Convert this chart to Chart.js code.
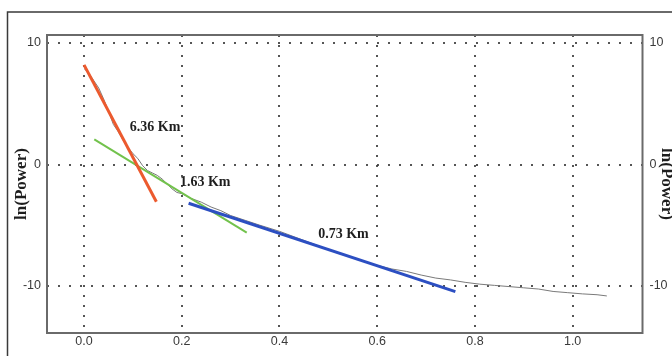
<!DOCTYPE html>
<html>
<head>
<meta charset="utf-8">
<script src="https://cdn.jsdelivr.net/npm/chart.js@4/dist/chart.umd.min.js"></script>
<style>
  html, body { margin: 0; padding: 0; background: #fff; overflow: hidden; width: 672px; height: 356px; }
  #wrap { position: absolute; left: 0; top: 0; width: 690px; height: 372px; }
</style>
</head>
<body>
<div id="wrap"><canvas id="c"></canvas></div>
<script>
// ---- data ----
const xTicks = [0.0, 0.2, 0.4, 0.6, 0.8, 1.0];
const yTicks = [-10, 0, 10];

const dataX = [0.0, 0.01, 0.02, 0.03, 0.04, 0.05, 0.06, 0.07, 0.08, 0.09, 0.10, 0.11, 0.12, 0.13, 0.14, 0.15,
  0.16, 0.17, 0.18, 0.19, 0.20, 0.22, 0.24, 0.26, 0.28, 0.30, 0.33, 0.36, 0.40, 0.44, 0.48, 0.52, 0.56, 0.60,
  0.63, 0.66, 0.69, 0.72, 0.75, 0.78, 0.81, 0.84, 0.87, 0.90, 0.93, 0.96, 0.99, 1.02, 1.05, 1.07];
const dataY = [7.9, 7.5, 6.9, 6.3, 5.4, 4.4, 3.3, 2.7, 2.0, 1.4, 0.9, 0.5, -0.1, -0.5, -0.7, -0.9,
  -1.2, -1.6, -2.0, -2.3, -2.4, -2.8, -3.1, -3.5, -3.8, -4.2, -4.6, -5.0, -5.5, -6.1, -6.7, -7.3, -7.8, -8.3,
  -8.6, -8.8, -9.1, -9.35, -9.5, -9.7, -9.85, -9.95, -10.05, -10.15, -10.25, -10.45, -10.55, -10.65, -10.72, -10.82];

const redX = [0.0, 0.148];   const redY = [8.2, -3.06];
const greenX = [0.021, 0.333]; const greenY = [2.07, -5.61];
const blueX = [0.214, 0.76];  const blueY = [-3.19, -10.47];

const noteText = ['6.36 Km', '1.63 Km', '0.73 Km'];
const noteX = [0.1455, 0.248, 0.531];
const noteY = [3.09, -1.44, -5.72];

const axisTitle = 'ln(Power)';

// ---- chart ----
const pts = (xs, ys) => xs.map((x, i) => ({ x: x, y: ys[i] }));
const serif = '"Liberation Serif", "Times New Roman", serif';
const sans = '"Liberation Sans", Arial, sans-serif';

const framePlugin = {
  id: 'frame',
  beforeDraw(chart) {
    const ctx = chart.ctx;
    ctx.save();
    ctx.fillStyle = '#fff';
    ctx.fillRect(0, 0, chart.width, chart.height);
    ctx.strokeStyle = '#3a3a3a';
    ctx.lineWidth = 1.5;
    ctx.strokeRect(7.5, 12, chart.width + 20, chart.height + 20);
    ctx.restore();
  },
  afterDraw(chart) {
    const a = chart.chartArea;
    const ctx = chart.ctx;
    ctx.save();
    ctx.strokeStyle = '#6a6a6a';
    ctx.lineWidth = 2;
    ctx.strokeRect(a.left, a.top, a.right - a.left, a.bottom - a.top);
    ctx.restore();
  }
};

const notePlugin = {
  id: 'notes',
  afterDatasetsDraw(chart) {
    const ctx = chart.ctx;
    const xs = chart.scales.x, ys = chart.scales.y;
    ctx.save();
    ctx.font = 'bold 14px ' + serif;
    ctx.fillStyle = '#1e1e1e';
    ctx.textAlign = 'center';
    ctx.textBaseline = 'middle';
    noteText.forEach((t, i) => {
      ctx.fillText(t, xs.getPixelForValue(noteX[i]), ys.getPixelForValue(noteY[i]));
    });
    ctx.restore();
  }
};

const gridOpts = { color: 'rgba(55,55,55,0.85)', lineWidth: 2, drawTicks: false, tickLength: 0 };

new Chart(document.getElementById('c'), {
  type: 'scatter',
  data: {
    datasets: [
      { data: pts(redX, redY), showLine: true, borderColor: '#ec5a2e', borderWidth: 3, pointRadius: 0, order: 1 },
      { data: pts(blueX, blueY), showLine: true, borderColor: '#2c4fc2', borderWidth: 3, pointRadius: 0, order: 2 },
      { data: pts(greenX, greenY), showLine: true, borderColor: '#72c24c', borderWidth: 2, pointRadius: 0, order: 3 },
      { data: pts(dataX, dataY), showLine: true, borderColor: '#7a7a7a', borderWidth: 1, pointRadius: 0, order: 4 }
    ]
  },
  options: {
    responsive: true,
    maintainAspectRatio: false,
    devicePixelRatio: 1,
    animation: false,
    layout: { padding: { left: 0, right: 0, top: 35, bottom: 0 } },
    plugins: { legend: { display: false }, tooltip: { enabled: false } },
    scales: {
      x: {
        type: 'linear', position: 'bottom', min: -0.0758, max: 1.143,
        afterBuildTicks: s => { s.ticks = xTicks.map(v => ({ value: v })); },
        afterFit: s => { s.height = 39; },
        grid: gridOpts,
        border: { display: false, dash: [2, 8] },
        ticks: { padding: 1, color: '#3a3a3a', font: { family: sans, size: 12.5 }, callback: v => v.toFixed(1), maxRotation: 0 }
      },
      y: {
        type: 'linear', position: 'left', min: -13.87, max: 10.66,
        afterBuildTicks: s => { s.ticks = yTicks.map(v => ({ value: v })); },
        afterFit: s => { s.width = 47; },
        grid: gridOpts,
        border: { display: false, dash: [2, 9] },
        ticks: { padding: 6, color: '#3a3a3a', font: { family: sans, size: 12.5 }, callback: v => String(v) },
        title: { display: true, text: axisTitle, color: '#1e1e1e', font: { family: serif, size: 17, weight: 'bold' }, padding: { top: 11, bottom: 0 } }
      },
      y2: {
        type: 'linear', position: 'right', min: -13.87, max: 10.66,
        afterBuildTicks: s => { s.ticks = yTicks.map(v => ({ value: v })); },
        afterFit: s => { s.width = 47.5; },
        grid: { display: false, drawTicks: false, tickLength: 0 },
        border: { display: false },
        ticks: { padding: 7, color: '#3a3a3a', font: { family: sans, size: 12.5 }, callback: v => String(v) },
        title: { display: true, text: axisTitle, color: '#1e1e1e', font: { family: serif, size: 17, weight: 'bold' }, padding: { top: 13, bottom: 0 } }
      }
    }
  },
  plugins: [framePlugin, notePlugin]
});
</script>
</body>
</html>
